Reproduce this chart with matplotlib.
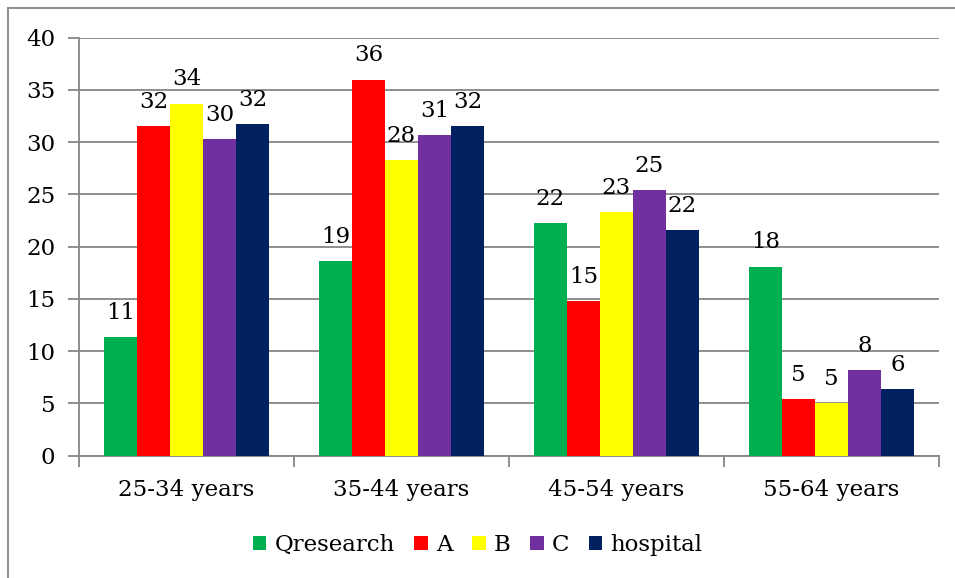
import matplotlib
matplotlib.use("Agg")
import matplotlib.pyplot as plt
import numpy as np
from matplotlib.lines import Line2D

categories = ["25-34 years", "35-44 years", "45-54 years", "55-64 years"]
series_names = ["Qresearch", "A", "B", "C", "hospital"]
qresearch = [11.4, 18.6, 22.3, 18.1]
a_vals = [31.55, 36.0, 14.8, 5.4]
b_vals = [33.7, 28.3, 23.3, 5.0]
c_vals = [30.3, 30.7, 25.4, 8.2]
hospital = [31.7, 31.55, 21.6, 6.4]
colors = ["#00B050", "#FF0000", "#FFFF00", "#7030A0", "#002060"]
y_ticks = [0, 5, 10, 15, 20, 25, 30, 35, 40]

all_series = [qresearch, a_vals, b_vals, c_vals, hospital]

plt.rcParams['font.family'] = ['DejaVu Serif']
W, H = 955, 578
fig = plt.figure(figsize=(W / 100, H / 100), dpi=100)
ax = fig.add_axes([79 / W, 1 - 455.7 / H, (939 - 79) / W, (455.7 - 37.7) / H])

n = len(series_names)
bar_w = 0.767 / n
x = np.arange(len(categories))
fs = 16.5
for i, (name, vals, col) in enumerate(zip(series_names, all_series, colors)):
    pos = x - 0.767 / 2 + bar_w * (i + 0.5)
    ax.bar(pos, vals, width=bar_w, color=col, label=name, zorder=3)
    for px, v in zip(pos, vals):
        ax.annotate(f"{int(v + 0.5)}", (px, v), xytext=(0, 13), textcoords="offset points",
                    ha="center", va="baseline", fontsize=fs, color="black", zorder=4)

ax.set_xlim(-0.5, len(categories) - 0.5)
ax.set_ylim(0, 40)
ax.set_yticks(y_ticks)
ax.set_yticklabels([str(t) for t in y_ticks], fontsize=fs)
ax.set_xticks(x)
ax.set_xticklabels(categories, fontsize=fs)
ax.tick_params(axis="x", length=0, pad=17)
ax.tick_params(axis="y", length=8, width=1.3, color="#868686", pad=9)
# category boundary ticks
ax.set_xticks(np.arange(-0.5, len(categories) + 0.5, 1), minor=True)
ax.tick_params(axis="x", which="minor", length=8, width=1.3, color="#868686", direction="out")

ax.yaxis.grid(True, color="#868686", linewidth=1.3, zorder=0)
ax.set_axisbelow(True)
for s in ["top", "right"]:
    ax.spines[s].set_visible(False)
for s in ["left", "bottom"]:
    ax.spines[s].set_color("#868686")
    ax.spines[s].set_linewidth(1.3)

leg = fig.legend(loc="center", bbox_to_anchor=(0.5, 1 - 545 / H), ncol=5, frameon=False,
                 fontsize=fs, handlelength=0.6, handleheight=0.6, handletextpad=0.35,
                 columnspacing=0.85)

# outer chart frame (left and top)
fig.add_artist(Line2D([8 / W, 8 / W], [0, 1 - 8 / H], transform=fig.transFigure,
                      color="#868686", linewidth=1.3))
fig.add_artist(Line2D([8 / W, 1], [1 - 8 / H, 1 - 8 / H], transform=fig.transFigure,
                      color="#868686", linewidth=1.3))

fig.savefig("out.png", dpi=100, facecolor="white")
